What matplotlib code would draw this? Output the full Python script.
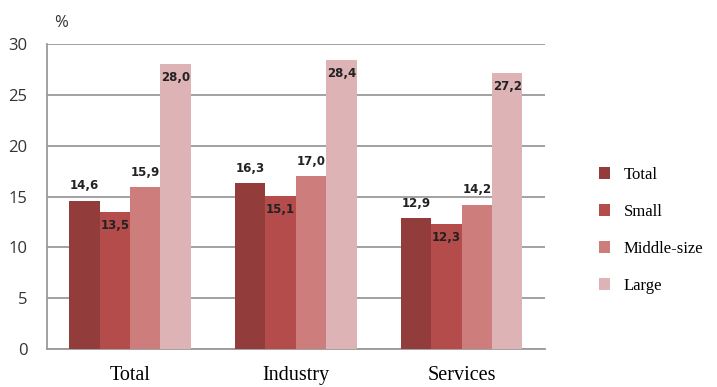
import numpy as np
import matplotlib.pyplot as plt

categories = ["Total", "Industry", "Services"]
series_names = ["Total", "Small", "Middle-size", "Large"]
total = [14.6, 16.3, 12.9]
small = [13.5, 15.1, 12.3]
middle = [15.9, 17.0, 14.2]
large = [28.0, 28.4, 27.2]

colors = ["#923c3c", "#b44c4b", "#cc7d7c", "#ddb3b5"]
# label placement per series: above the bar or inside its top
inside = [False, True, False, True]

fig = plt.figure(figsize=(7.17, 3.87), dpi=100)
ax = fig.add_axes([0.0656, 0.098, 0.694, 0.788])

x = np.arange(len(categories))
w = 0.183
values = [total, small, middle, large]
for i, (vals, name, c) in enumerate(zip(values, series_names, colors)):
    pos = x + (i - 1.5) * w
    bars = ax.bar(pos, vals, width=w, color=c, label=name, zorder=3)
    for b, v in zip(bars, vals):
        txt = f"{v:.1f}".replace(".", ",")
        if inside[i]:
            ax.annotate(txt, (b.get_x() + w / 2, v), xytext=(0, -5), textcoords="offset points",
                        ha="center", va="top", fontsize=8.5, fontweight="bold", color="#222222", zorder=4)
        else:
            ax.annotate(txt, (b.get_x() + w / 2, v), xytext=(0, 6), textcoords="offset points",
                        ha="center", va="bottom", fontsize=8.5, fontweight="bold", color="#222222", zorder=4)

ax.set_xlim(-0.5, 2.5)
ax.set_ylim(0, 30)
ax.set_yticks(range(0, 31, 5))
ax.yaxis.grid(True, color="#9a9a9a", linewidth=1.3, zorder=0)
for s in ["top", "right"]:
    ax.spines[s].set_visible(False)
ax.spines["left"].set_color("#9a9a9a")
ax.spines["bottom"].set_color("#9a9a9a")
ax.spines["left"].set_linewidth(1.3)
ax.spines["bottom"].set_linewidth(1.3)
ax.tick_params(axis="y", length=0, pad=14, labelsize=12, labelcolor="#333333")
ax.tick_params(axis="x", length=0, pad=12)
for t in ax.get_yticklabels():
    t.set_fontfamily("Open Sans")
ax.set_xticks(x)
ax.set_xticklabels(categories, fontfamily="Liberation Serif", fontsize=14.5)

fig.text(0.076, 0.94, "%", fontsize=12, fontfamily="Open Sans", color="#333333", ha="left", va="center")

leg = fig.legend(loc="center left", bbox_to_anchor=(0.835, 0.405), frameon=False,
                 prop={"family": "Liberation Serif", "size": 12}, handlelength=0.7,
                 handleheight=0.7, labelspacing=1.25, handletextpad=0.8,
                 borderpad=0, borderaxespad=0)

fig.savefig("out.png", dpi=100)
